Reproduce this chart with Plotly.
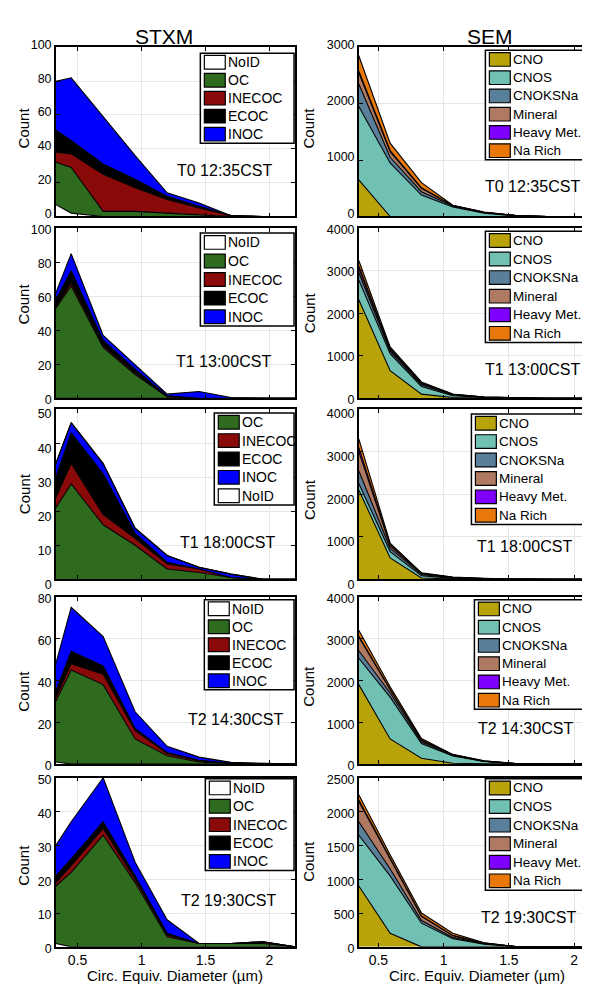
import plotly.graph_objects as go

W, H = 590, 989
FONT = "Liberation Sans, Arial, sans-serif"

# ---------------- data ----------------
stxm_x = [0.33, 0.45, 0.70, 0.95, 1.20, 1.45, 1.70, 1.95, 2.20]
sem_x = [0.35, 0.59, 0.83, 1.07, 1.31, 1.55, 1.79, 2.03, 2.27]

stxm_order_a = ["NoID", "OC", "INECOC", "ECOC", "INOC"]
stxm_order_b = ["OC", "INECOC", "ECOC", "INOC", "NoID"]
sem_names = ["CNO", "CNOS", "CNOKSNa", "Mineral", "Heavy Met.", "Na Rich"]

panel_labels = ["T0 12:35CST", "T1 13:00CST", "T1 18:00CST", "T2 14:30CST", "T2 19:30CST"]

stxm_t0 = {
    "NoID":   [7, 2, 0, 0, 0, 0, 0, 0, 0],
    "OC":     [25, 27, 3, 3, 2, 1, 0, 0, 0],
    "INECOC": [6, 8, 22, 14, 8, 4, 0.5, 0, 0],
    "ECOC":   [13, 8, 6, 5, 2, 1, 0, 0, 0],
    "INOC":   [29, 37, 28, 14, 2, 2, 0, 0, 0],
}
stxm_t1_1300 = {
    "NoID":   [0, 0, 0, 0, 0, 0, 0, 0, 0],
    "OC":     [53, 66, 30, 14, 1, 0, 0, 0, 0],
    "INECOC": [1, 2, 1, 1, 0, 0, 0, 0, 0],
    "ECOC":   [4, 7, 3, 2, 0.5, 0, 0, 0, 0],
    "INOC":   [4, 10, 3, 3, 1, 4, 0.5, 0, 0],
}
stxm_t1_1800 = {
    "OC":     [21, 28, 16, 10, 3, 2, 0.5, 0, 0],
    "INECOC": [3, 6, 3, 2, 1.5, 1, 0, 0, 0],
    "ECOC":   [6, 9, 12, 1.5, 0.5, 0, 0, 0, 0],
    "INOC":   [4, 3, 3, 1.5, 2, 0.5, 1, 0, 0],
    "NoID":   [0, 0, 0, 0, 0, 0, 0, 0, 0],
}
stxm_t2_1430 = {
    "NoID":   [1, 0, 0, 0, 0, 0, 0, 0, 0],
    "OC":     [29, 45, 38, 12, 4, 1, 0.3, 0, 0],
    "INECOC": [2, 3, 5, 4, 1, 0.5, 0, 0, 0],
    "ECOC":   [3, 6, 4, 1, 0.5, 0.3, 0, 0, 0],
    "INOC":   [13, 21, 14, 8, 3, 1.5, 0.5, 0.5, 0],
}
stxm_t2_1930 = {
    "NoID":   [1, 0, 0, 0, 0, 0, 0, 0, 0],
    "OC":     [17, 22, 33, 19, 3, 1, 1, 1, 0],
    "INECOC": [1, 2, 2, 1, 0.5, 0, 0, 0.5, 0],
    "ECOC":   [2, 2, 2, 1, 0.5, 0, 0, 0, 0],
    "INOC":   [9, 11, 13, 4, 4, 0, 0, 0, 0],
}

sem_t0 = {
    "CNO":        [650, 0, 0, 0, 0, 0, 0, 0, 0],
    "CNOS":       [1300, 950, 380, 170, 60, 10, 0, 0, 0],
    "CNOKSNa":    [400, 100, 60, 15, 10, 5, 0, 0, 0],
    "Mineral":    [200, 100, 60, 10, 5, 0, 0, 0, 0],
    "Heavy Met.": [30, 20, 10, 0, 0, 0, 0, 0, 0],
    "Na Rich":    [270, 130, 90, 5, 5, 5, 0, 0, 0],
}
sem_t1_1300 = {
    "CNO":        [2320, 650, 100, 20, 5, 0, 0, 0, 0],
    "CNOS":       [460, 400, 180, 40, 15, 5, 0, 0, 0],
    "CNOKSNa":    [180, 60, 40, 20, 5, 2, 0, 0, 0],
    "Mineral":    [90, 40, 25, 10, 3, 1, 0, 0, 0],
    "Heavy Met.": [60, 25, 15, 5, 0, 0, 0, 0, 0],
    "Na Rich":    [130, 35, 25, 5, 2, 2, 0, 0, 0],
}
sem_t1_1800 = {
    "CNO":        [2100, 500, 30, 5, 0, 0, 0, 0, 0],
    "CNOS":       [150, 150, 50, 15, 5, 0, 0, 0, 0],
    "CNOKSNa":    [300, 80, 30, 10, 5, 0, 0, 0, 0],
    "Mineral":    [450, 60, 20, 10, 5, 0, 0, 0, 0],
    "Heavy Met.": [100, 20, 10, 5, 0, 0, 0, 0, 0],
    "Na Rich":    [200, 40, 10, 5, 5, 0, 0, 0, 0],
}
sem_t2_1430 = {
    "CNO":        [1900, 600, 140, 20, 5, 0, 0, 0, 0],
    "CNOS":       [630, 1000, 350, 170, 55, 10, 0, 0, 0],
    "CNOKSNa":    [180, 100, 40, 15, 5, 0, 0, 0, 0],
    "Mineral":    [330, 80, 40, 15, 5, 0, 0, 0, 0],
    "Heavy Met.": [20, 10, 5, 0, 0, 0, 0, 0, 0],
    "Na Rich":    [140, 60, 35, 10, 5, 0, 0, 0, 0],
}
sem_t2_1930 = {
    "CNO":        [900, 200, 0, 0, 0, 0, 0, 0, 0],
    "CNOS":       [750, 850, 350, 120, 40, 5, 0, 0, 0],
    "CNOKSNa":    [200, 100, 40, 20, 5, 0, 0, 0, 0],
    "Mineral":    [300, 150, 60, 30, 10, 0, 0, 0, 0],
    "Heavy Met.": [20, 10, 5, 0, 0, 0, 0, 0, 0],
    "Na Rich":    [80, 50, 45, 30, 5, 0, 0, 0, 0],
}

stxm_panels = [stxm_t0, stxm_t1_1300, stxm_t1_1800, stxm_t2_1430, stxm_t2_1930]
stxm_orders = [stxm_order_a, stxm_order_a, stxm_order_b, stxm_order_a, stxm_order_a]
sem_panels = [sem_t0, sem_t1_1300, sem_t1_1800, sem_t2_1430, sem_t2_1930]

stxm_ymax = [100, 100, 50, 80, 50]
stxm_dtick = [20, 20, 10, 20, 10]
sem_ymax = [3000, 4000, 4000, 4000, 2500]
sem_dtick = [1000, 1000, 1000, 1000, 500]

# ---------------- styles ----------------
stxm_colors = {"NoID": "#ffffff", "OC": "#2e6b1e", "INECOC": "#8a0a0a",
               "ECOC": "#000000", "INOC": "#0000ff"}
sem_colors = {"CNO": "#b8a30a", "CNOS": "#71c0b4", "CNOKSNa": "#5a7f9a",
              "Mineral": "#b07a62", "Heavy Met.": "#8000ff", "Na Rich": "#e8780a"}

rows_px = [(30, 203), (215, 389), (400, 574), (592, 763), (777, 950)]
row_label_shift = [-3, 1, 5, 2, 2]   # small vertical nudges of y tick labels (px)
cols_px = [(48, 288), (352, 590)]
xranges = [[0.33, 2.2], [0.35, 2.167]]

stxm_leg_boxes = [(193, 36, 287, 128), (193, 220, 287, 315), (207, 404, 287, 498),
                  (197, 595, 287, 687), (198, 778, 287, 872)]
sem_leg_boxes = [(479, 33, 589, 145), (479, 218, 589, 332), (465, 405, 589, 518),
                 (468, 595, 589, 707), (479, 778, 589, 892)]

stxm_label_pos = [(217, 156), (216, 351), (220, 536), (228, 717), (221, 903)]
sem_label_pos = [(526, 172), (526, 360), (518, 541), (519, 727), (522, 920)]
count_pos = [[(16, 112), (302, 112)], [(16, 292), (302, 301)], [(16, 486), (302, 492)],
             [(16, 688), (302, 683)], [(16, 866), (302, 862)]]


def px(xp):
    return xp / W


def py(yp):
    return 1 - yp / H


fig = go.Figure()
shapes = []
annotations = []

axis_common = dict(showline=True, linecolor="black", linewidth=1.5, mirror="ticks",
                   ticks="inside", ticklen=4, tickwidth=1, tickcolor="black",
                   showgrid=True, gridcolor="#e6e6e6", gridwidth=1, zeroline=False,
                   tickfont=dict(size=12.5, color="black", family=FONT))

for r in range(5):
    for c in range(2):
        k = r * 2 + c + 1
        sfx = "" if k == 1 else str(k)
        if c == 0:
            data, order, xs, colors = stxm_panels[r], stxm_orders[r], stxm_x, stxm_colors
            ymax, dt = stxm_ymax[r], stxm_dtick[r]
            leg_font = 14
        else:
            data, order, xs, colors = sem_panels[r], sem_names, sem_x, sem_colors
            ymax, dt = sem_ymax[r], sem_dtick[r]
            leg_font = 13.5
        for name in order:
            fig.add_trace(go.Scatter(
                x=xs, y=data[name], name=name, stackgroup=f"g{k}", mode="lines",
                line=dict(color="black", width=1.1), fillcolor=colors[name],
                xaxis="x" + sfx, yaxis="y" + sfx, showlegend=False, hoverinfo="skip"))
        x0, x1 = cols_px[c]
        y0, y1 = rows_px[r]
        fig.update_layout(**{
            "xaxis" + sfx: dict(axis_common, domain=[px(x0), px(x1)], range=xranges[c],
                                anchor="y" + sfx, tickvals=[0.5, 1, 1.5, 2],
                                ticktext=["0.5", "1", "1.5", "2"],
                                tickfont=dict(size=14, color="black", family=FONT),
                                showticklabels=(r == 4)),
            "yaxis" + sfx: dict(axis_common, domain=[py(y1), py(y0)], range=[0, ymax],
                                anchor="x" + sfx, tick0=0, dtick=dt,
                                ticklabelshift=row_label_shift[r]),
        })

        # legend (drawn manually to match compact MATLAB legend)
        bx0, by0, bx1, by1 = (stxm_leg_boxes if c == 0 else sem_leg_boxes)[r]
        shapes.append(dict(type="rect", xref="paper", yref="paper",
                           x0=px(bx0), x1=px(bx1), y0=py(by1), y1=py(by0),
                           fillcolor="white", line=dict(color="black", width=1.5)))
        n = len(order)
        pitch = (by1 - by0) / n
        for i, name in enumerate(order):
            cy = by0 + pitch * (i + 0.5)
            shapes.append(dict(type="rect", xref="paper", yref="paper",
                               x0=px(bx0 + 4), x1=px(bx0 + 25), y0=py(cy + 7), y1=py(cy - 7),
                               fillcolor=colors[name], line=dict(color="black", width=1.2)))
            annotations.append(dict(xref="paper", yref="paper", x=px(bx0 + 26), y=py(cy),
                                    text=name, showarrow=False, xanchor="left", yanchor="middle",
                                    font=dict(size=leg_font, color="black", family=FONT)))

        # time label
        lx, ly = (stxm_label_pos if c == 0 else sem_label_pos)[r]
        annotations.append(dict(xref="paper", yref="paper", x=px(lx), y=py(ly),
                                text=panel_labels[r], showarrow=False, xanchor="center",
                                yanchor="middle", font=dict(size=16, color="black", family=FONT)))
        # Count label
        cx, cy = count_pos[r][c]
        annotations.append(dict(xref="paper", yref="paper", x=px(cx), y=py(cy), text="Count",
                                textangle=-90, showarrow=False, xanchor="center", yanchor="middle",
                                font=dict(size=15, color="black", family=FONT)))

# column titles
annotations.append(dict(xref="paper", yref="paper", x=px(157), y=py(19), text="STXM",
                        showarrow=False, xanchor="center", yanchor="middle",
                        font=dict(size=21, color="black", family=FONT)))
annotations.append(dict(xref="paper", yref="paper", x=px(484), y=py(19), text="SEM",
                        showarrow=False, xanchor="center", yanchor="middle",
                        font=dict(size=21, color="black", family=FONT)))
# x-axis titles
for xc in (168, 471):
    annotations.append(dict(xref="paper", yref="paper", x=px(xc), y=py(979),
                            text="Circ. Equiv. Diameter (µm)", showarrow=False,
                            xanchor="center", yanchor="middle",
                            font=dict(size=15, color="black", family=FONT)))

fig.update_layout(width=W, height=H, margin=dict(l=0, r=0, t=0, b=0),
                  paper_bgcolor="white", plot_bgcolor="white",
                  shapes=shapes, annotations=annotations, showlegend=False,
                  font=dict(family=FONT, color="black"))

fig.write_html("out.html")
